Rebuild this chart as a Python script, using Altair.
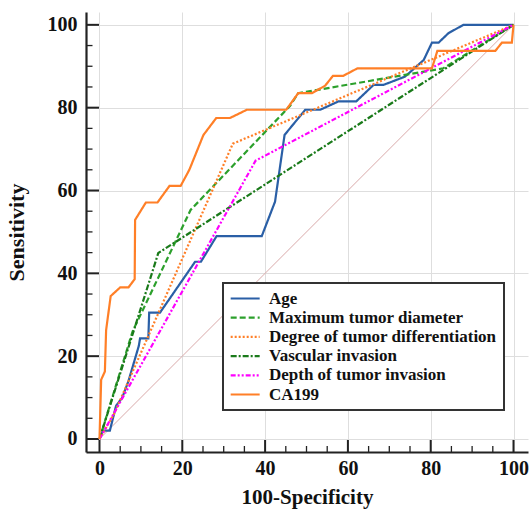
import altair as alt
import pandas as pd

series_names = ["Age", "Maximum tumor diameter", "Degree of tumor differentiation",
                "Vascular invasion", "Depth of tumor invasion", "CA199"]
series_colors = ["#2a5fa6", "#2ca02c", "#ff7f27", "#1a7a1a", "#ff00ff", "#ff7f27"]
series_dashes = [[1, 0], [6, 3], [2, 2], [6, 2, 2, 2], [5, 2, 2, 2, 2, 2], [1, 0]]

age_x = [0, 0.8, 2.5, 4, 5.5, 7, 9.5, 9.8, 11.8, 12, 14.6, 23.1, 24.5, 28.3, 39.2, 42.4, 44.7, 46,
         49.7, 53.3, 57.7, 62, 66.2, 68.6, 73.8, 78.3, 80.3, 81.9, 84.3, 87.9, 100]
age_y = [0, 2, 2, 8, 10, 14, 22.5, 24.3, 24.3, 30.5, 30.5, 42.8, 42.8, 49, 49, 57.3, 73.4, 75,
         79.5, 79.5, 81.5, 81.5, 85.5, 85.5, 87.5, 91.5, 95.7, 95.7, 98, 100, 100]

diam_x = [0, 8, 22, 46, 48, 83, 100]
diam_y = [0, 26, 55.3, 80.4, 83.5, 89.5, 100]

diff_x = [0, 3.5, 32.2, 100]
diff_y = [0, 6, 71.3, 100]

vasc_x = [0, 14.2, 100]
vasc_y = [0, 44.9, 100]

depth_x = [0, 37.7, 100]
depth_y = [0, 67.2, 100]

ca_x = [0, 0.4, 1.3, 1.6, 2.7, 5, 7, 8.5, 8.6, 11.2, 14, 16.9, 19.6, 21.7, 25.1, 28.2, 31.5, 35.6,
        45.1, 48, 51.3, 54.5, 56.4, 58.9, 62.3, 80.3, 81.6, 95.6, 97.2, 99.6, 100]
ca_y = [0, 14.3, 16.3, 26.3, 34.5, 36.6, 36.6, 38.6, 52.9, 57.1, 57.1, 61.1, 61.1, 65, 73.4, 77.5,
        77.5, 79.5, 79.5, 83.5, 83.5, 85.3, 87.7, 87.7, 89.5, 89.5, 93.7, 93.7, 95.7, 95.7, 100]

diag_x = [0, 100]
diag_y = [0, 100]

major_ticks = [0, 20, 40, 60, 80, 100]
minor_ticks = [v for v in range(5, 100, 5) if v % 20 != 0]

rows = []
for name, xs, ys in zip(series_names,
                        [age_x, diam_x, diff_x, vasc_x, depth_x, ca_x],
                        [age_y, diam_y, diff_y, vasc_y, depth_y, ca_y]):
    for i, (x, y) in enumerate(zip(xs, ys)):
        rows.append({"series": name, "x": x, "y": y, "i": i})
df = pd.DataFrame(rows)
diag_df = pd.DataFrame({"x": diag_x, "y": diag_y})
major_df = pd.DataFrame({"v": major_ticks})
minor_df = pd.DataFrame({"v": minor_ticks})

FONT = "Liberation Serif"
xscale = alt.Scale(domain=[-3.26, 103.5], nice=False, zero=False)
yscale = alt.Scale(domain=[-3.14, 103.1], nice=False, zero=False)

axis_common = dict(values=major_ticks, ticks=False, tickSize=0, domainColor="#222222",
                   domainWidth=2.2, gridColor="#dedede", gridWidth=1, labelFont=FONT,
                   labelFontSize=20, labelFontWeight="bold", labelColor="#111111",
                   titleFont=FONT, titleFontWeight="bold", titleColor="#111111",
                   titleAlign="center", titleBaseline="middle")

x_axis = alt.Axis(title="100-Specificity", labelPadding=6, titleX=221, titleY=45,
                  titleFontSize=21, **axis_common)
y_axis = alt.Axis(title="Sensitivity", labelPadding=9, titleX=-70, titleY=220, titleAngle=270,
                  titleFontSize=22, **axis_common)

diag = alt.Chart(diag_df).mark_line(color="#d9a9a9", strokeWidth=1).encode(
    x=alt.X("x:Q", scale=xscale, axis=x_axis),
    y=alt.Y("y:Q", scale=yscale, axis=y_axis),
)

lines = alt.Chart(df).mark_line(strokeWidth=2.2).encode(
    x=alt.X("x:Q", scale=xscale),
    y=alt.Y("y:Q", scale=yscale),
    color=alt.Color("series:N", scale=alt.Scale(domain=series_names, range=series_colors),
                    sort=series_names, title=None,
                    legend=alt.Legend(orient="none", legendX=137, legendY=271,
                                      labelExpr="datum.label + '\u00a0\u00a0\u00a0'")),
    strokeDash=alt.StrokeDash("series:N", scale=alt.Scale(domain=series_names, range=series_dashes),
                              sort=series_names, title=None),
    order=alt.Order("i:Q"),
)

xt_major = alt.Chart(major_df).mark_rule(color="#222222", strokeWidth=2).encode(
    x=alt.X("v:Q", scale=xscale), y=alt.value(440), y2=alt.value(428))
xt_minor = alt.Chart(minor_df).mark_rule(color="#222222", strokeWidth=1.3).encode(
    x=alt.X("v:Q", scale=xscale), y=alt.value(440), y2=alt.value(434))
yt_major = alt.Chart(major_df).mark_rule(color="#222222", strokeWidth=2).encode(
    y=alt.Y("v:Q", scale=yscale), x=alt.value(0), x2=alt.value(13))
yt_minor = alt.Chart(minor_df).mark_rule(color="#222222", strokeWidth=1.3).encode(
    y=alt.Y("v:Q", scale=yscale), x=alt.value(0), x2=alt.value(6.5))

chart = alt.layer(diag, xt_major, xt_minor, yt_major, yt_minor, lines).properties(
    width=442, height=440,
    autosize=alt.AutoSizeParams(type="none"),
    padding={"left": 86, "top": 12, "right": 1, "bottom": 58},
).configure_view(stroke=None).configure_legend(
    fillColor="white", strokeColor="#333333", strokeWidth=2, cornerRadius=0, padding=7,
    symbolType="M-3,0H3", symbolSize=93.4, symbolOffset=6.67, symbolStrokeWidth=2.2,
    labelFont=FONT, labelFontSize=17, labelFontWeight="bold", labelColor="#111111",
    labelOffset=15.3, rowPadding=1.2, labelLimit=400,
)

chart.save("out.html", embed_options={"renderer": "svg", "actions": False})
